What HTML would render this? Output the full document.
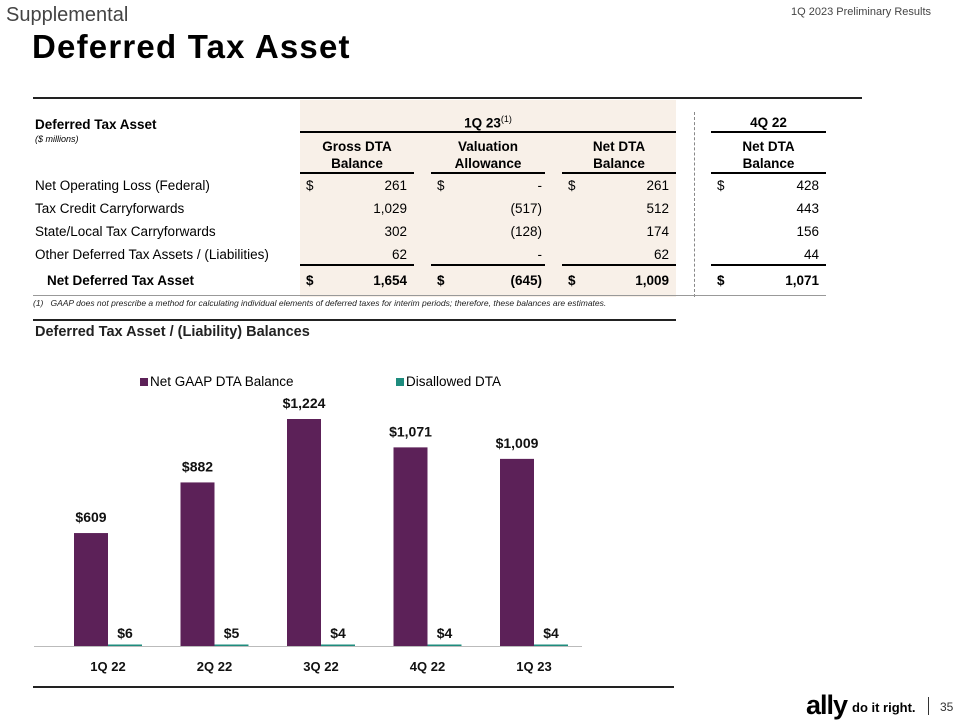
<!DOCTYPE html>
<html><head><meta charset="utf-8"><style>
body{margin:0;width:960px;height:720px;background:#fff;font-family:"Liberation Sans",sans-serif;position:relative;overflow:hidden;color:#000}
.a{position:absolute;white-space:nowrap}
.r{text-align:right}
.b{font-weight:bold}
.ln{position:absolute;height:1.5px;background:#000}
.t{font-size:13.5px}
</style></head><body>
<div class="a" style="left:6px;top:4px;font-size:20px;color:#444">Supplemental</div>
<div class="a" style="left:791px;top:6px;font-size:11px;color:#444">1Q 2023 Preliminary Results</div>
<div class="a b" style="left:32px;top:28px;font-size:33px;letter-spacing:1.2px">Deferred Tax Asset</div>

<div class="ln" style="left:33px;top:97px;width:829px;background:#222"></div>
<div class="a" style="left:300px;top:100px;width:376px;height:197px;background:#f8f0e8"></div>
<div class="a" style="left:694px;top:112px;height:185px;border-left:1px dashed #888"></div>

<div class="a b t" style="left:35px;top:117px">Deferred Tax Asset</div>
<div class="a" style="left:35px;top:134px;font-size:9px;font-style:italic">($ millions)</div>
<div class="a b t" style="left:300px;width:376px;text-align:center;top:114px">1Q 23<sup style="font-size:9px;font-weight:normal">(1)</sup></div>
<div class="ln" style="left:300px;top:131px;width:376px"></div>
<div class="a b t" style="left:711px;width:115px;text-align:center;top:115px">4Q 22</div>
<div class="ln" style="left:711px;top:131px;width:115px"></div>

<div class="a b t" style="left:300px;width:114px;text-align:center;top:138px;line-height:17px">Gross DTA<br>Balance</div>
<div class="a b t" style="left:431px;width:114px;text-align:center;top:138px;line-height:17px">Valuation<br>Allowance</div>
<div class="a b t" style="left:562px;width:114px;text-align:center;top:138px;line-height:17px">Net DTA<br>Balance</div>
<div class="a b t" style="left:711px;width:115px;text-align:center;top:138px;line-height:17px">Net DTA<br>Balance</div>
<div class="ln" style="left:300px;top:172px;width:114px"></div>
<div class="ln" style="left:431px;top:172px;width:114px"></div>
<div class="ln" style="left:562px;top:172px;width:114px"></div>
<div class="ln" style="left:711px;top:172px;width:115px"></div>

<div id="rows"></div>
<div class="ln" style="left:300px;top:264px;width:114px"></div>
<div class="ln" style="left:431px;top:264px;width:114px"></div>
<div class="ln" style="left:562px;top:264px;width:114px"></div>
<div class="ln" style="left:711px;top:264px;width:115px"></div>
<div class="ln" style="left:33px;top:295px;width:793px;background:#999;height:1px"></div>
<div class="a" style="left:33px;top:298px;font-size:8.5px;font-style:italic;color:#222">(1)&nbsp;&nbsp;&nbsp;GAAP does not prescribe a method for calculating individual elements of deferred taxes for interim periods; therefore, these balances are estimates.</div>
<div class="ln" style="left:33px;top:319px;width:643px;background:#222"></div>

<div class="a b" style="left:35px;top:324px;font-size:14.5px;color:#222">Deferred Tax Asset / (Liability) Balances</div>
<div class="a" style="left:140px;top:374px;font-size:13.5px"><span style="display:inline-block;width:8px;height:8px;background:#5c2158;margin-right:2px"></span>Net GAAP DTA Balance</div>
<div class="a" style="left:396px;top:374px;font-size:13.5px"><span style="display:inline-block;width:8px;height:8px;background:#1e8c7e;margin-right:2px"></span>Disallowed DTA</div>
<svg id="chart" class="a" style="left:0;top:0" width="960" height="720"></svg>
<div class="ln" style="left:33px;top:686px;width:641px;background:#222"></div>

<div class="a b" style="left:806px;top:690px;font-size:27px;letter-spacing:-1px">ally</div>
<div class="a b" style="left:852px;top:700px;font-size:13px">do it right.</div>
<div class="a" style="left:928px;top:697px;width:1px;height:18px;background:#333"></div>
<div class="a" style="left:940px;top:700px;font-size:12px;color:#333">35</div>

<script>
const rowLabels=["Net Operating Loss (Federal)","Tax Credit Carryforwards","State/Local Tax Carryforwards","Other Deferred Tax Assets / (Liabilities)","Net Deferred Tax Asset"];
const gross=["261","1,029","302","62","1,654"];
const valuation=["-","(517)","(128)","-","(645)"];
const net=["261","512","174","62","1,009"];
const prior=["428","443","156","44","1,071"];
const rowsEl=document.getElementById('rows');
const rowTops=[178,201,224,247,273];
function cell(txt,left,top,w,cls,name){
  const d=document.createElement('div');
  d.className='a t '+cls;d.style.left=left+'px';d.style.top=top+'px';
  if(w)d.style.width=w+'px';
  d.textContent=txt;
  
  
  rowsEl.appendChild(d);
}
rowLabels.forEach((l,i)=>{
  const bold=i===4?' b':'';const t=rowTops[i];
  cell(l,i===4?47:35,t,0,bold,'row-label');
  if(i===0||i===4){
    cell('$',306,t,0,bold,'dollar-sign');cell('$',437,t,0,bold,'dollar-sign');
    cell('$',568,t,0,bold,'dollar-sign');cell('$',717,t,0,bold,'dollar-sign');
  }
  cell(gross[i],330,t,77,'r'+bold,'gross-value');
  cell(valuation[i],460,t,82,'r'+bold,'valuation-value');
  cell(net[i],590,t,79,'r'+bold,'net-value');
  cell(prior[i],740,t,79,'r'+bold,'prior-value');
});

const categories=["1Q 22","2Q 22","3Q 22","4Q 22","1Q 23"];
const netGaap=[609,882,1224,1071,1009];
const disallowed=[6,5,4,4,4];
const svg=document.getElementById('chart');const NS='http://www.w3.org/2000/svg';
const base=646,scale=227/1224;
const y=v=>base-v*scale;
const x=i=>74+i*106.5;
function mk(tag,attrs){const e=document.createElementNS(NS,tag);for(const k in attrs)e.setAttribute(k,attrs[k]);svg.appendChild(e);return e;}
const ax=mk('line',{x1:34,x2:582,y1:base+0.5,y2:base+0.5,stroke:'#bbb','stroke-width':1});


categories.forEach((c,i)=>{
  const b=mk('rect',{x:x(i),y:y(netGaap[i]),width:34,height:netGaap[i]*scale,fill:'#5c2158'});
  
  
  const h=Math.max(disallowed[i]*scale,1.5);
  const d=mk('rect',{x:x(i)+34,y:base-h,width:34,height:h,fill:'#1e8c7e'});
  
  
  const t1=mk('text',{x:x(i)+17,y:y(netGaap[i])-11,'text-anchor':'middle','font-size':14,'font-weight':'bold','font-family':'Liberation Sans, sans-serif',fill:'#111'});
  t1.textContent='$'+netGaap[i].toLocaleString('en-US');
  
  
  const t2=mk('text',{x:x(i)+51,y:base-8,'text-anchor':'middle','font-size':14,'font-weight':'bold','font-family':'Liberation Sans, sans-serif',fill:'#111'});
  t2.textContent='$'+disallowed[i];
  
  
  const t3=mk('text',{x:x(i)+34,y:671,'text-anchor':'middle','font-size':13,'font-weight':'bold','font-family':'Liberation Sans, sans-serif',fill:'#111'});
  t3.textContent=c;
  
  
});
</script>
</body></html>
